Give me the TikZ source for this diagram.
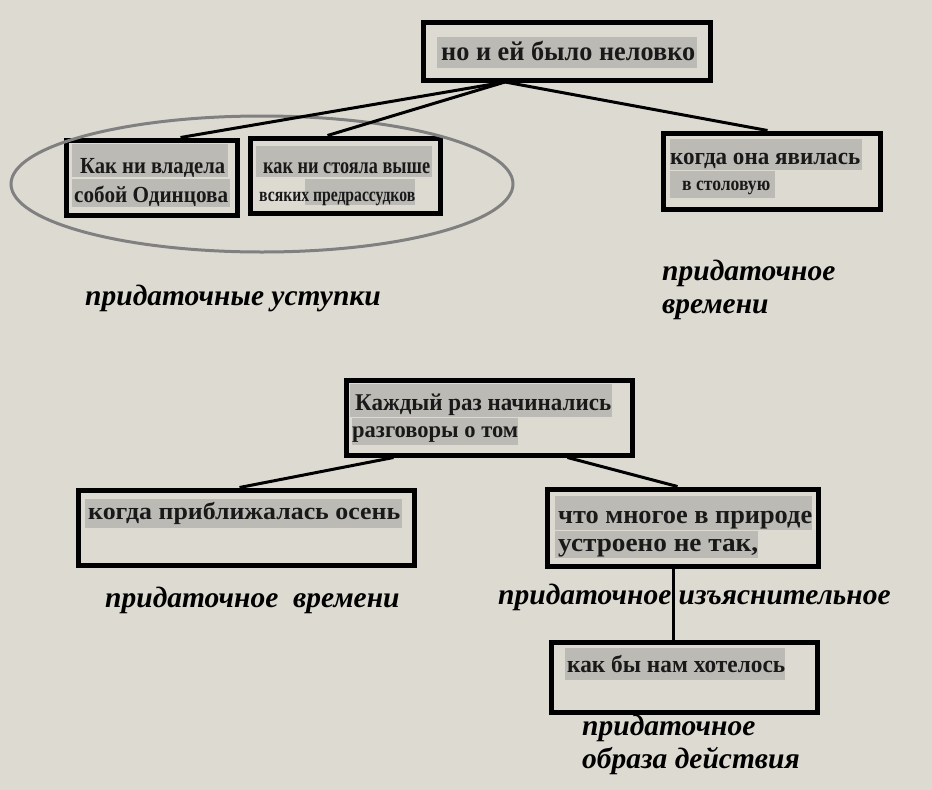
\documentclass[tikz,border=0pt]{standalone}
\usepackage{fontspec}
\setmainfont{Liberation Serif}
\usetikzlibrary{calc}
\definecolor{bg}{RGB}{221,219,209}
\definecolor{patch}{RGB}{187,186,181}
\definecolor{ring}{RGB}{128,128,128}
\newcommand{\bt}[3]{\resizebox{#1pt}{\height}{\fontsize{#2}{#2}\selectfont\bfseries #3}}
\tikzset{
  box/.style={draw=black, line width=5pt, inner sep=0pt},
  conn/.style={draw=black, line width=3pt},
  txt/.style={inner sep=0pt, anchor=base west, text=black!90},
  lbl/.style={inner sep=0pt, anchor=base west, font=\fontsize{29.5}{32}\selectfont\bfseries\itshape},
}
\begin{document}
\begin{tikzpicture}[x=1pt,y=-1pt]
\useasboundingbox (0,0) rectangle (932,790);
\fill[bg] (0,0) rectangle (932,790);

% ---- boxes
\node[box, minimum width=287, minimum height=58] (b1) at (566.5,51) {};
\node[box, minimum width=171, minimum height=75] (b2) at (151.5,177.5) {};
\node[box, minimum width=190, minimum height=75] (b3) at (345,175.5) {};
\node[box, minimum width=217, minimum height=76] (b4) at (771.5,171) {};
\node[box, minimum width=286, minimum height=75] (b5) at (489,417.5) {};
\node[box, minimum width=336, minimum height=75] (b6) at (246,527.5) {};
\node[box, minimum width=271, minimum height=77] (b7) at (682.5,527.5) {};
\node[box, minimum width=266, minimum height=70] (b8) at (684,677) {};

% ---- grey patches
\fill[patch] (437,37) rectangle (697,68);
\fill[patch] (72,144) rectangle (228,177);
\fill[patch] (72,179) rectangle (230,207);
\fill[patch] (256,146) rectangle (432,177);
\fill[patch] (305,179) rectangle (415,205);
\fill[patch] (670,139) rectangle (862,170);
\fill[patch] (670,171) rectangle (775,198);
\fill[patch] (350,384) rectangle (612,417);
\fill[patch] (352,418) rectangle (518,445);
\fill[patch] (85,499) rectangle (402,528);
\fill[patch] (555,496) rectangle (812,530);
\fill[patch] (555,531) rectangle (758,558);
\fill[patch] (565,648) rectangle (785,680);

% ---- texts
\node[txt] (t1) at (441,60) {\bt{254}{27}{но и ей было неловко}};
\node[txt] (t2a) at (80,173) {\bt{145}{23}{Как ни владела}};
\node[txt] (t2b) at (74,202) {\bt{154}{23}{собой Одинцова}};
\node[txt] (t3a) at (263,173) {\bt{167}{23}{как ни стояла выше}};
\node[txt] (t3b) at (259,201) {\bt{156}{20}{всяких предрассудков}};
\node[txt] (t4a) at (670,164) {\bt{190}{24}{когда она явилась}};
\node[txt] (t4b) at (682,190) {\bt{88}{20}{в столовую}};
\node[txt] (t5a) at (355,410) {\bt{256}{24}{Каждый раз начинались}};
\node[txt] (t5b) at (352,437) {\bt{166}{23}{разговоры о том}};
\node[txt] (t6) at (88,519) {\bt{312}{24}{когда приближалась осень}};
\node[txt] (t7a) at (558,523) {\bt{254}{26}{что многое в природе}};
\node[txt] (t7b) at (558,551) {\bt{200}{26}{устроено не так,}};
\node[txt] (t8) at (567,672) {\bt{218}{24}{как бы нам хотелось}};

% ---- ellipse
\draw[ring, line width=3pt] (262,184) ellipse [x radius=251, y radius=68];

% ---- connectors
\coordinate (j1) at (505,82);
\draw[conn] (j1) -- ($(b2.north west)+(117,0)$);
\draw[conn] (j1) -- ($(b3.north west)+(80,0)$);
\draw[conn] (j1) -- ($(b4.north west)+(107,0)$);
\draw[conn] ($(b5.south west)+(50,0)$) -- ($(b6.north west)+(164,0)$);
\draw[conn] ($(b5.south west)+(224,0)$) -- ($(b7.north west)+(133,0)$);
\draw[conn] ($(b7.south west)+(129,0)$) -- ($(b8.north west)+(125,0)$);

% ---- labels
\node[lbl] (l1) at (85,305) {придаточные уступки};
\node[lbl] (l2a) at (662,280) {придаточное};
\node[lbl] (l2b) at (662,313) {времени};
\node[lbl] (l3a) at (105,607) {придаточное};
\node[lbl] (l3b) at (293,607) {времени};
\node[lbl] (l4) at (498,604) {придаточное изъяснительное};
\node[lbl] (l5a) at (582,735) {придаточное};
\node[lbl] (l5b) at (582,768) {образа действия};
\end{tikzpicture}
\end{document}
